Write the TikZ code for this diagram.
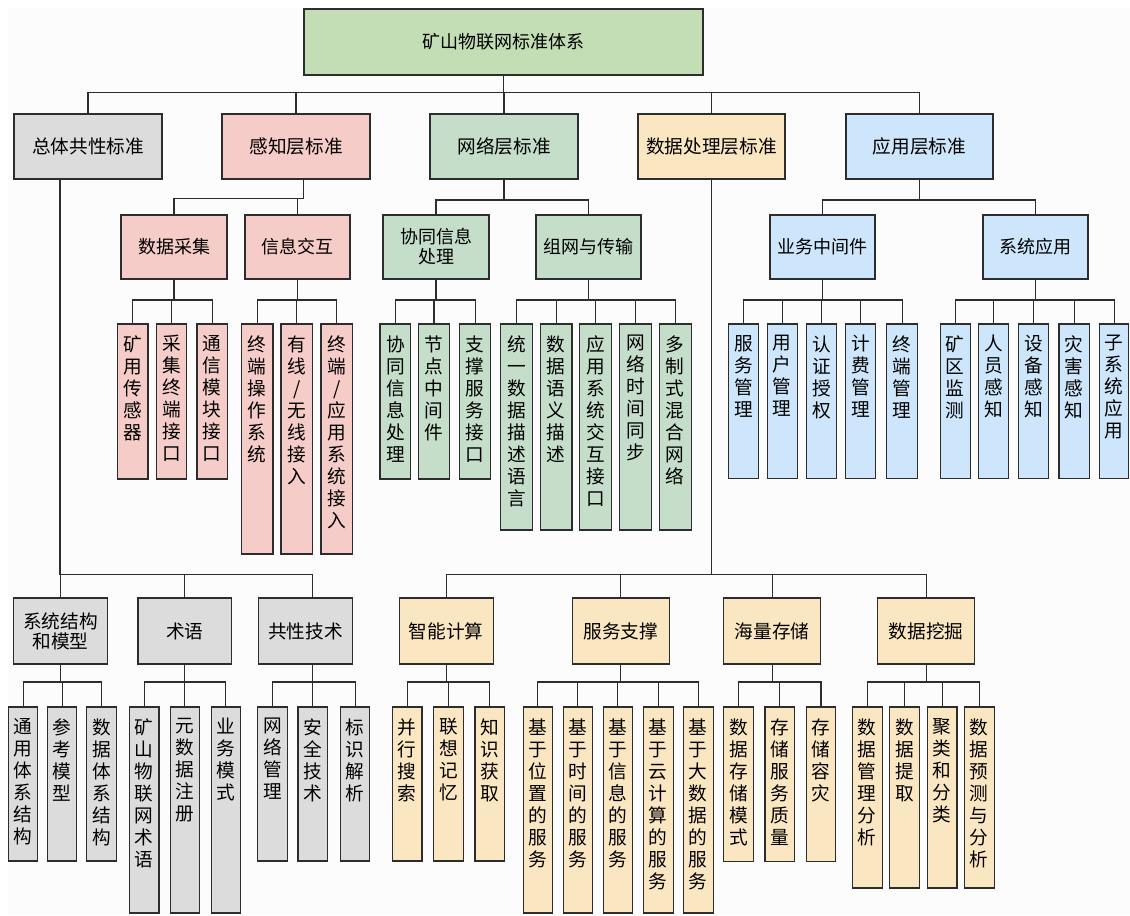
\documentclass[tikz,border=0pt]{standalone}
\usepackage{fontspec}
\newfontfamily\cjk{Noto Sans CJK SC}
\usetikzlibrary{calc}

% fill colours of the five branches
\definecolor{rootgreen}{RGB}{195,221,180}
\definecolor{boxgray}{RGB}{220,220,220}
\definecolor{boxpink}{RGB}{245,204,199}
\definecolor{boxgreen}{RGB}{196,222,202}
\definecolor{boxorange}{RGB}{251,230,194}
\definecolor{boxblue}{RGB}{205,230,251}
\definecolor{edge}{RGB}{45,45,45}
\definecolor{paper}{RGB}{252,252,252}

\tikzset{
  box/.style={draw=edge, line width=0.9pt, inner sep=0pt, text=black},
  conn/.style={draw=edge, line width=0.8pt},
}

% horizontal-text box: name, style, x1, y1, x2, y2, text
\newcommand\hnode[7]{%
  \pgfmathsetmacro\bw{(#5-#3)*0.75}%
  \pgfmathsetmacro\bh{(#6-#4)*0.75}%
  \node[box, #2, align=center, minimum width=\bw pt, minimum height=\bh pt]
    (#1) at ({(#3+#5)/2},{(#4+#6)/2}) {#7};%
}
% vertical-text column: name, style, x1, y1, x2, y2, text (one character per line)
\newcommand\vnode[7]{%
  \pgfmathsetmacro\bw{(#5-#3)*0.75}%
  \pgfmathsetmacro\bh{(#6-#4)*0.75}%
  \node[box, #2, minimum width=\bw pt, minimum height=\bh pt,
        font=\cjk\fontsize{14}{16.5}\selectfont]
    (#1) at ({(#3+#5)/2},{(#4+#6)/2})
    {\parbox[c][\bh pt][t]{\bw pt}{\vspace*{8.5pt}\centering #7\par}};%
}

\begin{document}
\begin{tikzpicture}[x=0.75pt,y=-0.75pt]
\useasboundingbox (0,0) rectangle (1130,915);
\fill[paper] (8,8) rectangle (1130,915);

% ---------- root ----------
\hnode{root}{fill=rootgreen, font=\cjk\fontsize{13.5}{16}\selectfont}{304}{9}{703}{75}{矿山物联网标准体系}

% ---------- first level ----------
\tikzset{lv1/.style={font=\cjk\fontsize{14}{16}\selectfont}}
\hnode{zt}{lv1, fill=boxgray}{14}{114}{162}{179}{总体共性标准}
\hnode{gz}{lv1, fill=boxpink}{222}{114}{370}{179}{感知层标准}
\hnode{wl}{lv1, fill=boxgreen}{430}{114}{578}{179}{网络层标准}
\hnode{sj}{lv1, fill=boxorange}{638}{114}{785}{179}{数据处理层标准}
\hnode{yy}{lv1, fill=boxblue}{846}{114}{993}{179}{应用层标准}

% ---------- second level ----------
\tikzset{lv2/.style={font=\cjk\fontsize{13.5}{15}\selectfont}}
\hnode{sjcj}{lv2, fill=boxpink}{121}{215}{227}{279}{数据采集}
\hnode{xxjh}{lv2, fill=boxpink}{245}{215}{350}{279}{信息交互}
\hnode{xtxx}{lv2, fill=boxgreen}{383}{215}{489}{279}{协同信息\\处理}
\hnode{zwcs}{lv2, fill=boxgreen}{536}{215}{641}{279}{组网与传输}
\hnode{ywzj}{lv2, fill=boxblue}{770}{215}{875}{279}{业务中间件}
\hnode{xtyy}{lv2, fill=boxblue}{983}{215}{1088}{279}{系统应用}

% ---------- perception layer leaves ----------
\vnode{a1}{fill=boxpink}{117.5}{324}{148}{479}{矿\\用\\传\\感\\器}
\vnode{a2}{fill=boxpink}{156.5}{324}{186.5}{479}{采\\集\\终\\端\\接\\口}
\vnode{a3}{fill=boxpink}{197}{324}{227.5}{479}{通\\信\\模\\块\\接\\口}
\vnode{b1}{fill=boxpink}{241.5}{324}{273}{554}{终\\端\\操\\作\\系\\统}
\vnode{b2}{fill=boxpink}{281}{324}{312.5}{554}{有\\线\\/\\无\\线\\接\\入}
\vnode{b3}{fill=boxpink}{321}{324}{352.5}{554}{终\\端\\/\\应\\用\\系\\统\\接\\入}

% ---------- network layer leaves ----------
\vnode{c1}{fill=boxgreen}{380}{324}{410.7}{479}{协\\同\\信\\息\\处\\理}
\vnode{c2}{fill=boxgreen}{418.7}{324}{449.3}{479}{节\\点\\中\\间\\件}
\vnode{c3}{fill=boxgreen}{459.7}{324}{490.4}{479}{支\\撑\\服\\务\\接\\口}
\vnode{d1}{fill=boxgreen}{500.5}{324}{532.2}{530}{统\\一\\数\\据\\描\\述\\语\\言}
\vnode{d2}{fill=boxgreen}{540.5}{324}{572}{530}{数\\据\\语\\义\\描\\述}
\vnode{d3}{fill=boxgreen}{579.8}{324}{611.8}{530}{应\\用\\系\\统\\交\\互\\接\\口}
\vnode{d4}{fill=boxgreen}{619.8}{324}{651.5}{530}{网\\络\\时\\间\\同\\步}
\vnode{d5}{fill=boxgreen}{659.4}{324}{691.1}{530}{多\\制\\式\\混\\合\\网\\络}

% ---------- application layer leaves ----------
\vnode{e1}{fill=boxblue}{728.2}{324}{758.5}{478.5}{服\\务\\管\\理}
\vnode{e2}{fill=boxblue}{767.1}{324}{797.4}{478.5}{用\\户\\管\\理}
\vnode{e3}{fill=boxblue}{806.4}{324}{836.7}{478.5}{认\\证\\授\\权}
\vnode{e4}{fill=boxblue}{845.3}{324}{875.6}{478.5}{计\\费\\管\\理}
\vnode{e5}{fill=boxblue}{886.7}{324}{917.4}{478.5}{终\\端\\管\\理}
\vnode{f1}{fill=boxblue}{940.1}{324}{970.3}{478.5}{矿\\区\\监\\测}
\vnode{f2}{fill=boxblue}{978.3}{324}{1008.5}{478.5}{人\\员\\感\\知}
\vnode{f3}{fill=boxblue}{1018.3}{324}{1048.5}{478.5}{设\\备\\感\\知}
\vnode{f4}{fill=boxblue}{1059}{324}{1089.2}{478.5}{灾\\害\\感\\知}
\vnode{f5}{fill=boxblue}{1099.7}{324}{1128.5}{478.5}{子\\系\\统\\应\\用}

% ---------- lower second level ----------
\tikzset{lv3/.style={font=\cjk\fontsize{14}{15}\selectfont}}
\hnode{xtjg}{lv3, fill=boxgray}{13.3}{598}{107.4}{664}{系统结构\\和模型}
\hnode{sy}{lv3, fill=boxgray}{138}{598}{231.7}{664}{术语}
\hnode{gxjs}{lv3, fill=boxgray}{258.7}{598}{352.4}{664}{共性技术}
\hnode{znjs}{lv3, fill=boxorange}{399.2}{598}{493.3}{664}{智能计算}
\hnode{fwzc}{lv3, fill=boxorange}{572.2}{598}{669.5}{664}{服务支撑}
\hnode{hlcc}{lv3, fill=boxorange}{723.5}{598}{820.8}{664}{海量存储}
\hnode{sjwj}{lv3, fill=boxorange}{877.4}{598}{974.7}{664}{数据挖掘}

% ---------- general standards leaves ----------
\vnode{g1}{fill=boxgray}{8.3}{707}{37.8}{861}{通\\用\\体\\系\\结\\构}
\vnode{g2}{fill=boxgray}{47.6}{707}{76.7}{861}{参\\考\\模\\型}
\vnode{g3}{fill=boxgray}{86.8}{707}{116.4}{861}{数\\据\\体\\系\\结\\构}
\vnode{h1}{fill=boxgray}{129.3}{707}{158.9}{913}{矿\\山\\物\\联\\网\\术\\语}
\vnode{h2}{fill=boxgray}{170.1}{707}{199.6}{913}{元\\数\\据\\注\\册}
\vnode{h3}{fill=boxgray}{211.1}{707}{240.7}{913}{业\\务\\模\\式}
\vnode{i1}{fill=boxgray}{257.6}{707}{287.2}{861}{网\\络\\管\\理}
\vnode{i2}{fill=boxgray}{298}{707}{327.5}{861}{安\\全\\技\\术}
\vnode{i3}{fill=boxgray}{340.5}{707}{369.7}{861}{标\\识\\解\\析}

% ---------- data processing leaves ----------
\vnode{j1}{fill=boxorange}{392.4}{707}{421.9}{861}{并\\行\\搜\\索}
\vnode{j2}{fill=boxorange}{433.4}{707}{463.4}{861}{联\\想\\记\\忆}
\vnode{j3}{fill=boxorange}{474.9}{707}{504.4}{861}{知\\识\\获\\取}
\vnode{k1}{fill=boxorange}{523.2}{707}{552.7}{913}{基\\于\\位\\置\\的\\服\\务}
\vnode{k2}{fill=boxorange}{563.2}{707}{592.7}{913}{基\\于\\时\\间\\的\\服\\务}
\vnode{k3}{fill=boxorange}{603.2}{707}{632.7}{913}{基\\于\\信\\息\\的\\服\\务}
\vnode{k4}{fill=boxorange}{643.5}{707}{673.1}{913}{基\\于\\云\\计\\算\\的\\服\\务}
\vnode{k5}{fill=boxorange}{683.5}{707}{713.1}{913}{基\\于\\大\\数\\据\\的\\服\\务}
\vnode{l1}{fill=boxorange}{723.5}{707}{753.4}{861.7}{数\\据\\存\\储\\模\\式}
\vnode{l2}{fill=boxorange}{765}{707}{794.5}{861.7}{存\\储\\服\\务\\质\\量}
\vnode{l3}{fill=boxorange}{806.4}{707}{835.6}{861.7}{存\\储\\容\\灾}
\vnode{m1}{fill=boxorange}{852.2}{707}{882.4}{888}{数\\据\\管\\理\\分\\析}
\vnode{m2}{fill=boxorange}{889.6}{707}{919.5}{888}{数\\据\\提\\取}
\vnode{m3}{fill=boxorange}{927.1}{707}{957}{888}{聚\\类\\和\\分\\类}
\vnode{m4}{fill=boxorange}{964.2}{707}{994.1}{888}{数\\据\\预\\测\\与\\分\\析}

% ---------- bus heights of the tree ----------
\coordinate (busRoot) at (0,92.7);
\coordinate (busL2a) at (0,198.5);
\coordinate (busL2b) at (0,200);
\coordinate (busL3) at (0,300);
\coordinate (busLow) at (0,574.5);
\coordinate (busLeaf) at (0,682);
% drop points that sit off the box centres
\coordinate (ztdrop) at ($(zt.south)+(-28,0)$);
\coordinate (gzdrop) at ($(gz.south)+(7.5,0)$);
\coordinate (gxdrop) at ($(gxjs.south)+(7,0)$);

% ---------- connectors ----------
\foreach \c in {zt,gz,wl,sj,yy}
  \draw[conn] (root.south) -- (root.south |- busRoot) -| (\c.north);
\foreach \c in {sjcj,xxjh}
  \draw[conn] (gzdrop) -- (gzdrop |- busL2a) -| (\c.north);
\foreach \c in {xtxx,zwcs}
  \draw[conn] (wl.south) -- (wl.south |- busL2b) -| (\c.north);
\foreach \c in {ywzj,xtyy}
  \draw[conn] (yy.south) -- (yy.south |- busL2b) -| (\c.north);

\foreach \c in {a1,a2,a3}
  \draw[conn] (sjcj.south) -- (sjcj.south |- busL3) -| (\c.north);
\foreach \c in {b1,b2,b3}
  \draw[conn] (xxjh.south) -- (xxjh.south |- busL3) -| (\c.north);
\foreach \c in {c1,c2,c3}
  \draw[conn] (xtxx.south) -- (xtxx.south |- busL3) -| (\c.north);
\foreach \c in {d1,d2,d3,d4,d5}
  \draw[conn] (zwcs.south) -- (zwcs.south |- busL3) -| (\c.north);
\foreach \c in {e1,e2,e3,e4,e5}
  \draw[conn] (ywzj.south) -- (ywzj.south |- busL3) -| (\c.north);
\foreach \c in {f1,f2,f3,f4,f5}
  \draw[conn] (xtyy.south) -- (xtyy.south |- busL3) -| (\c.north);

\foreach \c in {xtjg,sy}
  \draw[conn] (ztdrop) -- (ztdrop |- busLow) -| (\c.north);
\draw[conn] (ztdrop |- busLow) -- (gxdrop |- busLow) -- (gxdrop |- gxjs.north);
\foreach \c in {znjs,fwzc,hlcc,sjwj}
  \draw[conn] (sj.south) -- (sj.south |- busLow) -| (\c.north);

\foreach \c in {g1,g2,g3}
  \draw[conn] (xtjg.south) -- (xtjg.south |- busLeaf) -| (\c.north);
\foreach \c in {h1,h2,h3}
  \draw[conn] (sy.south) -- (sy.south |- busLeaf) -| (\c.north);
\foreach \c in {i1,i2,i3}
  \draw[conn] (gxdrop) -- (gxdrop |- busLeaf) -| (\c.north);
\foreach \c in {j1,j2,j3}
  \draw[conn] (znjs.south) -- (znjs.south |- busLeaf) -| (\c.north);
\foreach \c in {k1,k2,k3,k4,k5}
  \draw[conn] (fwzc.south) -- (fwzc.south |- busLeaf) -| (\c.north);
\foreach \c in {l1,l2,l3}
  \draw[conn] (hlcc.south) -- (hlcc.south |- busLeaf) -| (\c.north);
\foreach \c in {m1,m2,m3,m4}
  \draw[conn] (sjwj.south) -- (sjwj.south |- busLeaf) -| (\c.north);
\end{tikzpicture}
\end{document}
